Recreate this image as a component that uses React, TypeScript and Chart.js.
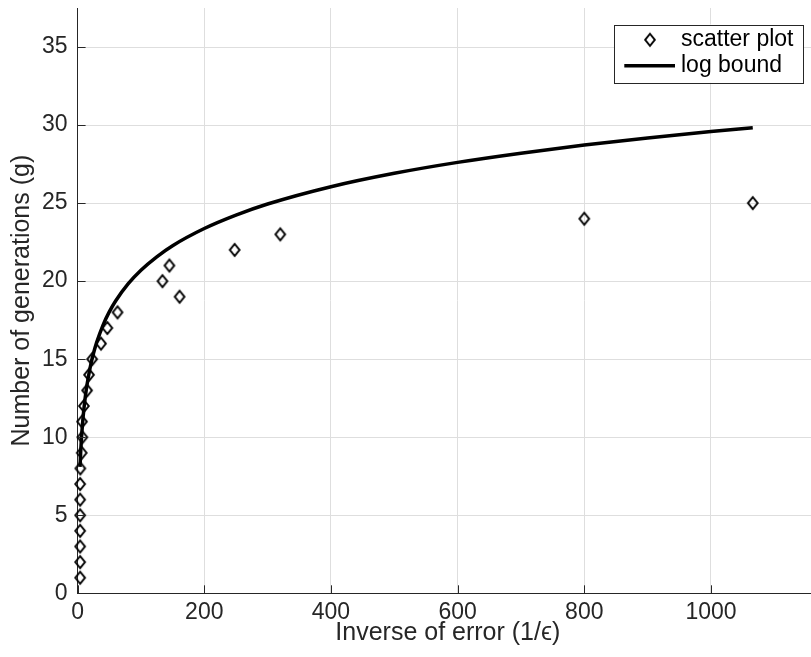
import React, { useEffect, useRef } from 'react';
import { Chart, registerables } from 'chart.js';

Chart.register(...registerables);

// ---- data ----
const generations = [1, 2, 3, 4, 5, 6, 7, 8, 9, 10, 11, 12, 13, 14, 15, 16, 17, 18, 19, 20, 21, 22, 23, 24, 25];
const inverseError = [4, 4, 4, 4, 4, 4, 4, 4.3, 6.5, 7.5, 7, 10, 15, 18, 23, 37, 47, 63, 161, 134, 145, 248, 320, 800, 1066];

const boundX = [3.8, 4, 5, 6, 8, 10, 12, 15, 20, 25, 30, 40, 50, 60, 80, 100, 125, 150, 200, 250, 300, 400, 500, 600, 700, 800, 900, 1000, 1066];
const boundY = [8.1, 8.29, 9.15, 9.86, 10.97, 11.83, 12.53, 13.39, 14.5, 15.36, 16.06, 17.17, 18.03, 18.73, 19.84, 20.7, 21.56, 22.27, 23.37, 24.23, 24.94, 26.05, 26.91, 27.61, 28.2, 28.72, 29.17, 29.58, 29.83];

const xTickValues = [0, 200, 400, 600, 800, 1000];
const yTickValues = [0, 5, 10, 15, 20, 25, 30, 35];
const xMax = 1169;
const yMax = 37.5;

const scatterLabel = 'scatter plot';
const lineLabel = 'log bound';
const xTitle = 'Inverse of error (1/\u03F5)';
const yTitle = 'Number of generations (g)';

const FONT = '"Liberation Sans", Arial, Helvetica, sans-serif';
const TEXT = '#262626';

function makeDiamond(): HTMLCanvasElement {
  const c = document.createElement('canvas');
  c.width = 16;
  c.height = 18;
  const ctx = c.getContext('2d')!;
  ctx.strokeStyle = '#000';
  ctx.lineWidth = 2;
  ctx.lineJoin = 'miter';
  ctx.beginPath();
  ctx.moveTo(8, 3);
  ctx.lineTo(12.8, 9);
  ctx.lineTo(8, 15);
  ctx.lineTo(3.2, 9);
  ctx.closePath();
  ctx.stroke();
  return c;
}

const inwardTicks = {
  id: 'inwardTicks',
  afterDatasetsDraw(chart: any) {
    const { ctx, chartArea, scales } = chart;
    ctx.save();
    ctx.strokeStyle = TEXT;
    ctx.lineWidth = 1;
    ctx.beginPath();
    scales.x.ticks.forEach((t: any) => {
      const px = Math.round(scales.x.getPixelForValue(t.value)) + 0.5;
      ctx.moveTo(px, chartArea.bottom);
      ctx.lineTo(px, chartArea.bottom - 8);
    });
    scales.y.ticks.forEach((t: any) => {
      const py = Math.round(scales.y.getPixelForValue(t.value)) + 0.5;
      ctx.moveTo(chartArea.left, py);
      ctx.lineTo(chartArea.left + 8, py);
    });
    ctx.stroke();
    ctx.restore();
  },
};

const boxLegend = {
  id: 'boxLegend',
  afterDraw(chart: any) {
    const { ctx, chartArea } = chart;
    const ds = chart.data.datasets;
    const right = chartArea.right - 14.7;
    const left = right - 189.3;
    const top = chartArea.top + 16.5;
    const h = 58.3;
    ctx.save();
    ctx.fillStyle = '#fff';
    ctx.fillRect(left, top, right - left, h);
    ctx.strokeStyle = TEXT;
    ctx.lineWidth = 1;
    ctx.strokeRect(Math.round(left) + 0.5, Math.round(top) + 0.5, Math.round(right - left), Math.round(h));
    const row1 = top + 15.3;
    const row2 = top + 41.3;
    const textX = left + 67;
    ctx.font = `23px ${FONT}`;
    ctx.fillStyle = '#000';
    ctx.textBaseline = 'middle';
    ctx.textAlign = 'left';
    const sc = ds.find((d: any) => d.label === scatterLabel);
    const img = sc.pointStyle as HTMLCanvasElement;
    ctx.drawImage(img, left + 36 - img.width / 2, row1 - img.height / 2);
    ctx.fillText(sc.label, textX, row1);
    const ln = ds.find((d: any) => d.label === lineLabel);
    ctx.strokeStyle = ln.borderColor;
    ctx.lineWidth = ln.borderWidth;
    ctx.beginPath();
    ctx.moveTo(left + 10.3, row2);
    ctx.lineTo(left + 61, row2);
    ctx.stroke();
    ctx.fillText(ln.label, textX, row2);
    ctx.restore();
  },
};

export default function App() {
  const ref = useRef<HTMLCanvasElement>(null);

  useEffect(() => {
    if (!ref.current) return;
    const diamond = makeDiamond();
    const chart = new Chart(ref.current, {
      type: 'scatter',
      data: {
        datasets: [
          {
            label: lineLabel,
            data: boundX.map((x, i) => ({ x, y: boundY[i] })),
            showLine: true,
            borderColor: '#000',
            borderWidth: 3.5,
            pointRadius: 0,
            cubicInterpolationMode: 'monotone',
            order: 0,
            clip: false,
          } as any,
          {
            label: scatterLabel,
            data: inverseError.map((x, i) => ({ x, y: generations[i] })),
            showLine: false,
            pointStyle: diamond,
            pointRadius: 7,
            order: 1,
            clip: false,
          } as any,
        ],
      },
      options: {
        animation: false,
        responsive: false,
        devicePixelRatio: 1,
        layout: { padding: { top: 7.5, right: 12, left: 0, bottom: 0 } },
        plugins: {
          legend: { display: false },
          tooltip: { enabled: false },
        },
        scales: {
          x: {
            type: 'linear',
            min: 0,
            max: xMax,
            afterBuildTicks: (scale: any) => {
              scale.ticks = xTickValues.map((v) => ({ value: v }));
            },
            afterFit: (scale: any) => {
              scale.height = 63.7;
              scale.paddingLeft = 0;
              scale.paddingRight = 0;
            },
            grid: { color: '#dedede', lineWidth: 1, drawTicks: false },
            border: { display: true, color: TEXT, width: 1 },
            ticks: {
              padding: 6,
              color: TEXT,
              font: { family: FONT, size: 23 },
              maxRotation: 0,
              callback: (v: any) => String(v),
            },
            title: {
              display: true,
              text: xTitle,
              color: TEXT,
              font: { family: FONT, size: 25, lineHeight: 1.2 },
              padding: { top: 0, bottom: 9 },
            },
          },
          y: {
            type: 'linear',
            min: 0,
            max: yMax,
            afterBuildTicks: (scale: any) => {
              scale.ticks = yTickValues.map((v) => ({ value: v }));
            },
            afterFit: (scale: any) => {
              scale.width = 77.6;
              scale.paddingTop = 0;
              scale.paddingBottom = 0;
            },
            grid: { color: '#dedede', lineWidth: 1, drawTicks: false },
            border: { display: true, color: TEXT, width: 1 },
            ticks: {
              padding: 10,
              color: TEXT,
              font: { family: FONT, size: 23 },
              callback: (v: any) => String(v),
            },
            title: {
              display: true,
              text: yTitle,
              color: TEXT,
              font: { family: FONT, size: 25, lineHeight: 1.2 },
              padding: { top: 7, bottom: 0 },
            },
          },
        },
      } as any,
      plugins: [inwardTicks, boxLegend],
    });
    return () => chart.destroy();
  }, []);

  return (
    <div
      style={{
        position: 'fixed',
        left: 0,
        top: 0,
        width: 811,
        height: 657,
        overflow: 'hidden',
        background: '#fff',
      }}
    >
      <canvas ref={ref} width={830} height={657} style={{ width: 830, height: 657, display: 'block' }} />
    </div>
  );
}
